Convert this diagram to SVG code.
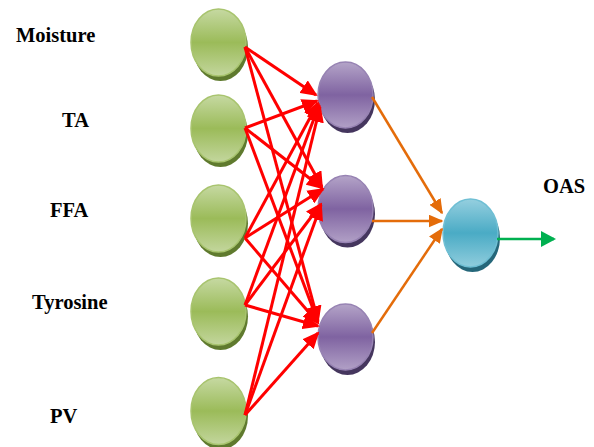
<svg xmlns="http://www.w3.org/2000/svg" width="594" height="447" viewBox="0 0 594 447">
<defs>
<linearGradient id="gG" x1="0" y1="0" x2="0" y2="1">
<stop offset="0" stop-color="#c6d9a2"/><stop offset="0.5" stop-color="#9bbb59"/><stop offset="1" stop-color="#c3d69d"/>
</linearGradient>
<linearGradient id="gP" x1="0" y1="0" x2="0" y2="1">
<stop offset="0" stop-color="#b4a4c8"/><stop offset="0.5" stop-color="#7f63a1"/><stop offset="1" stop-color="#b1a0c6"/>
</linearGradient>
<linearGradient id="gB" x1="0" y1="0" x2="0" y2="1">
<stop offset="0" stop-color="#95cfdf"/><stop offset="0.5" stop-color="#4aabc5"/><stop offset="1" stop-color="#90cddd"/>
</linearGradient>
<marker id="mR" markerUnits="userSpaceOnUse" markerWidth="17" markerHeight="15" refX="15" refY="7.5" orient="auto">
<path d="M0,0 L17,7.5 L0,15 z" fill="#ff0000"/>
</marker>
<marker id="mO" markerUnits="userSpaceOnUse" markerWidth="15" markerHeight="13" refX="13.5" refY="6.5" orient="auto">
<path d="M0,0 L15,6.5 L0,13 z" fill="#e46c0a"/>
</marker>
<marker id="mG" markerUnits="userSpaceOnUse" markerWidth="15" markerHeight="16" refX="13" refY="8" orient="auto">
<path d="M0,0 L15,8 L0,16 z" fill="#00b050"/>
</marker>
</defs>
<style>
.lbl{font-family:"Liberation Serif","Times New Roman",serif;font-weight:bold;font-size:20.5px;fill:#000}
.shG{fill:#5f7a2e}.shP{fill:#45365e}.shB{fill:#25677a}
.fG{fill:url(#gG);stroke:#a8c46e;stroke-width:1.5}
.fP{fill:url(#gP);stroke:#9783b3;stroke-width:1.5}
.fB{fill:url(#gB);stroke:#6fbfd4;stroke-width:1.5}
.r{stroke:#ff0000;stroke-width:3;fill:none;marker-end:url(#mR)}
.o{stroke:#e46c0a;stroke-width:2.5;fill:none;marker-end:url(#mO)}
.g{stroke:#00b050;stroke-width:2.5;fill:none;marker-end:url(#mG)}
</style>
<rect width="594" height="447" fill="#fff"/>
<g id="labels">
<text class="lbl" x="16" y="42">Moisture</text>
<text class="lbl" x="62" y="127">TA</text>
<text class="lbl" x="50" y="217">FFA</text>
<text class="lbl" x="32" y="309">Tyrosine</text>
<text class="lbl" x="50" y="423">PV</text>
<text class="lbl" x="543" y="193">OAS</text>
</g>
<g id="in1"><ellipse class="shG" cx="220.5" cy="47.5" rx="27.5" ry="33.5"/><ellipse class="fG" cx="218.5" cy="42.5" rx="27.5" ry="33.5"/></g>
<g id="in2"><ellipse class="shG" cx="220.5" cy="133.5" rx="27.5" ry="33.5"/><ellipse class="fG" cx="218.5" cy="128.5" rx="27.5" ry="33.5"/></g>
<g id="in3"><ellipse class="shG" cx="220.5" cy="223.5" rx="27.5" ry="33.5"/><ellipse class="fG" cx="218.5" cy="218.5" rx="27.5" ry="33.5"/></g>
<g id="in4"><ellipse class="shG" cx="220.5" cy="316.5" rx="27.5" ry="33.5"/><ellipse class="fG" cx="218.5" cy="311.5" rx="27.5" ry="33.5"/></g>
<g id="in5"><ellipse class="shG" cx="220.5" cy="416" rx="27.5" ry="33.5"/><ellipse class="fG" cx="218.5" cy="411" rx="27.5" ry="33.5"/></g>
<g id="h1"><ellipse class="shP" cx="347.5" cy="100" rx="27.5" ry="33"/><ellipse class="fP" cx="345.5" cy="95" rx="27.5" ry="33"/></g>
<g id="h2"><ellipse class="shP" cx="347.5" cy="214" rx="27.5" ry="33.5"/><ellipse class="fP" cx="345.5" cy="209" rx="27.5" ry="33.5"/></g>
<g id="h3"><ellipse class="shP" cx="347.5" cy="342" rx="27.5" ry="33"/><ellipse class="fP" cx="345.5" cy="337" rx="27.5" ry="33"/></g>
<g id="out"><ellipse class="shB" cx="472.5" cy="238" rx="27.5" ry="34"/><ellipse class="fB" cx="470.5" cy="233" rx="27.5" ry="34"/></g>
<g id="connectors">
<line class="r" x1="245" y1="47" x2="316" y2="95"/>
<line class="r" x1="245" y1="128" x2="317" y2="101"/>
<line class="r" x1="245" y1="238" x2="318" y2="103"/>
<line class="r" x1="245" y1="305" x2="319" y2="105"/>
<line class="r" x1="245" y1="415" x2="320" y2="107"/>
<line class="r" x1="245" y1="47" x2="322" y2="187"/>
<line class="r" x1="245" y1="128" x2="322" y2="188"/>
<line class="r" x1="245" y1="238" x2="323" y2="189"/>
<line class="r" x1="245" y1="305" x2="321" y2="204"/>
<line class="r" x1="245" y1="415" x2="321" y2="205"/>
<line class="r" x1="245" y1="47" x2="318" y2="321"/>
<line class="r" x1="245" y1="128" x2="318" y2="322"/>
<line class="r" x1="245" y1="238" x2="318" y2="323"/>
<line class="r" x1="245" y1="305" x2="318" y2="326"/>
<line class="r" x1="245" y1="415" x2="318" y2="333"/>
<line class="o" x1="372" y1="97" x2="442" y2="213"/>
<line class="o" x1="372" y1="221" x2="442" y2="221"/>
<line class="o" x1="372" y1="333" x2="442" y2="229"/>
<line class="g" x1="497" y1="239" x2="554" y2="239"/>
</g>
</svg>
